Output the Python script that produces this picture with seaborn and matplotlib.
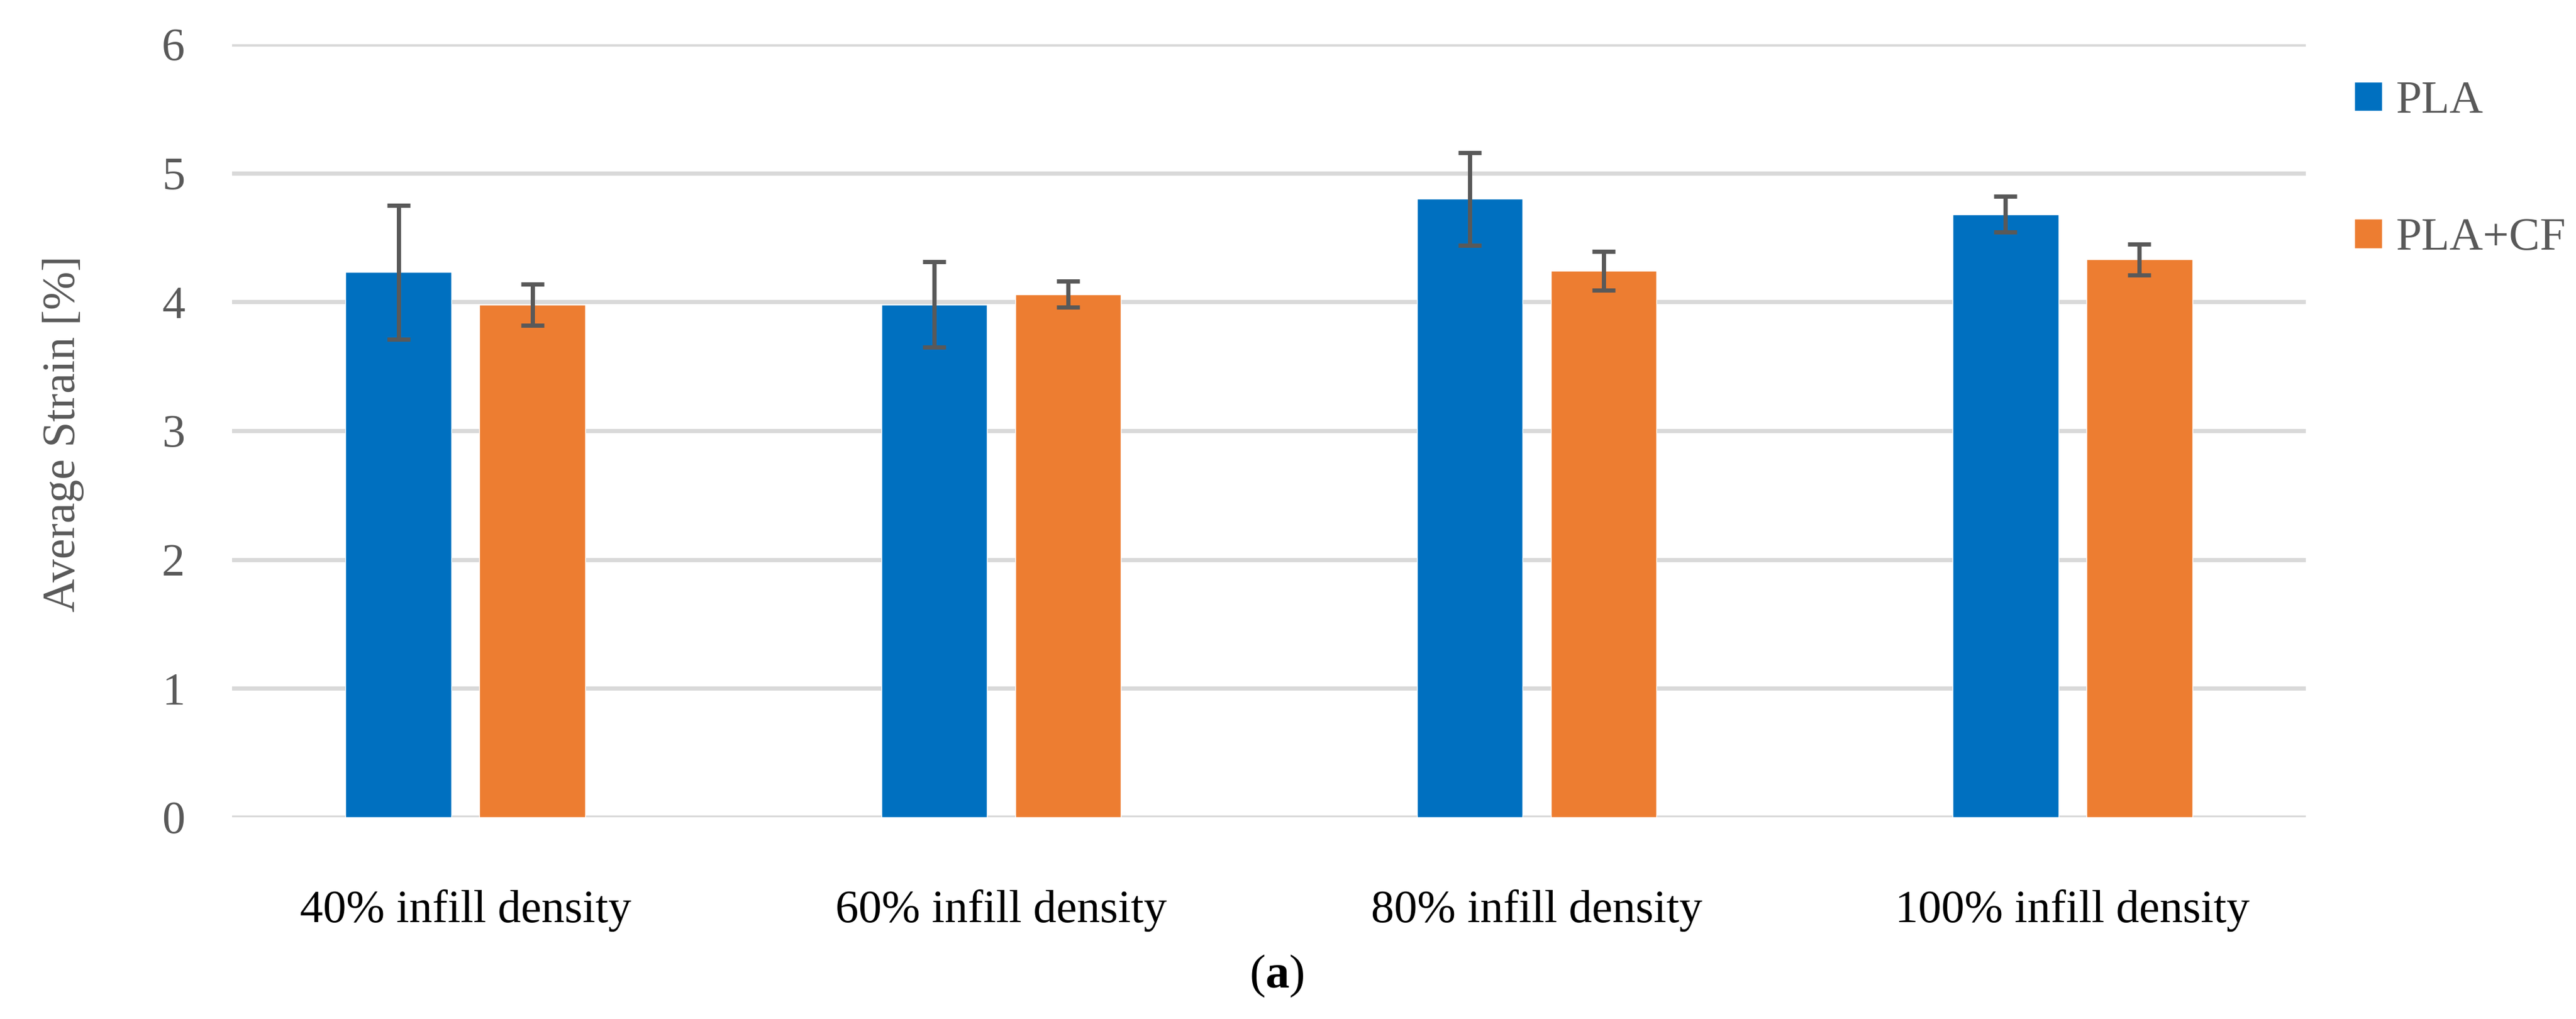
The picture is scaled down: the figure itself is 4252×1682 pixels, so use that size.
import pandas as pd
import matplotlib
matplotlib.use("Agg")
import matplotlib.pyplot as plt
import seaborn as sns

# ---- DATA ----
categories = ['40% infill density', '60% infill density', '80% infill density', '100% infill density']
materials = ['PLA', 'PLA+CF']
pla_strain = [4.23, 3.98, 4.80, 4.68]
pla_err = [0.52, 0.33, 0.36, 0.14]
placf_strain = [3.98, 4.06, 4.24, 4.33]
placf_err = [0.16, 0.10, 0.15, 0.12]
y_ticks = [0, 1, 2, 3, 4, 5, 6]

df = pd.DataFrame({
    'Infill': categories * 2,
    'Material': [materials[0]] * 4 + [materials[1]] * 4,
    'Strain': pla_strain + placf_strain,
})
errors = {materials[0]: pla_err, materials[1]: placf_err}

# ---- STYLE ----
sns.set_theme(style="white")
plt.rcParams['font.family'] = ['Liberation Serif', 'DejaVu Serif']
plt.rcParams['mathtext.fontset'] = 'custom'
plt.rcParams['mathtext.rm'] = 'Liberation Serif'
plt.rcParams['mathtext.bf'] = 'Liberation Serif:bold'

gray_text = '#595959'
palette = {'PLA': '#0070C0', 'PLA+CF': '#ED7D31'}
fs = 55

fig = plt.figure(figsize=(42.52, 16.82), dpi=100)
ax = fig.add_axes([0.0901, 0.198, 0.8050, 0.7586])

sns.barplot(data=df, x='Infill', y='Strain', hue='Material', order=categories,
            hue_order=materials, palette=palette, width=0.5, gap=0.21,
            saturation=1, errorbar=None, ax=ax, zorder=3)

# error bars placed at the centres of the drawn bars
for container, mat in zip(ax.containers, materials):
    xs = [b.get_x() + b.get_width() / 2 for b in container]
    ys = [b.get_height() for b in container]
    ax.errorbar(xs, ys, yerr=errors[mat], fmt='none', ecolor=gray_text,
                elinewidth=5, capsize=14, capthick=5, zorder=4)

ax.set_ylim(0, 6)
ax.set_xlim(-0.4356, 3.4356)
ax.set_yticks(y_ticks)
ax.yaxis.grid(True, color='#D9D9D9', linewidth=5, zorder=0)
ax.set_axisbelow(True)
for s in ax.spines.values():
    s.set_visible(False)

ax.tick_params(axis='y', length=0, pad=56, labelsize=fs, labelcolor=gray_text)
ax.tick_params(axis='x', length=0, pad=86, labelsize=fs, labelcolor='black')
ax.set_xlabel('')
ax.set_ylabel('')

fig.text(105 / 4252, 1 - 716 / 1682, 'Average Strain [%]', rotation=90,
         ha='center', va='center', fontsize=fs, color=gray_text)

handles, labels = ax.get_legend_handles_labels()
ax.legend(handles, labels, loc='upper left', bbox_to_anchor=(3886 / 4252, 1 - 133 / 1682),
          bbox_transform=fig.transFigure, frameon=False, fontsize=fs,
          labelcolor=gray_text, handlelength=0.6, handleheight=0.6,
          handletextpad=0.3, labelspacing=2.06, borderpad=0, borderaxespad=0)

fig.text(2107 / 4252, 1 - 1611 / 1682, r'($\mathbf{a}$)', ha='center', va='center',
         fontsize=57, color='black')

fig.savefig('out.png', dpi=100, facecolor='white')
